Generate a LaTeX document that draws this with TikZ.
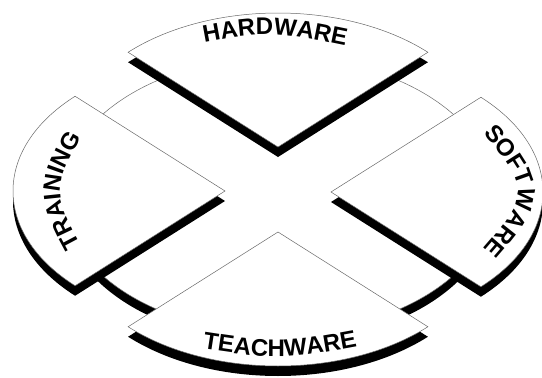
\documentclass[tikz,border=0pt]{standalone}
\usepackage{fontspec}
\setmainfont{Liberation Sans}
\usepackage{tikz}
\usetikzlibrary{decorations.text}
\definecolor{rimclr}{RGB}{105,105,105}
\newcommand{\sectorfont}{\fontsize{24}{24}\selectfont\bfseries}

\begin{document}
\begin{tikzpicture}[x=1pt, y=-1pt,
  rim/.style={draw=rimclr, line width=0.5pt, fill=white},
  slab/.style={fill=black},
  curvedlabel/.style={decorate, decoration={text along path, text align=center, text={|\sectorfont|#1}}}]

\useasboundingbox (0,0) rectangle (542,378);

% Base disk with its dark rim
\fill[slab] (278,205) ellipse [x radius=216, y radius=138];
\draw[rim] (278,195) ellipse [x radius=216, y radius=138];

% Sectors: centre x / centre y / start angle / end angle (back to front)
\foreach \cx/\cy/\sa/\ea in {278/147/225/315, 225/191/135/225, 331/192/-45/45, 278/232/45/135}{
  \fill[slab] (\cx,\cy+10) -- ++(\sa:212 and 134)
    arc[start angle=\sa, end angle=\ea, x radius=212, y radius=134] -- cycle;
  \draw[rim] (\cx,\cy) -- ++(\sa:212 and 134)
    arc[start angle=\sa, end angle=\ea, x radius=212, y radius=134] -- cycle;
}

% Labels
\path[curvedlabel=HARDWARE]  (186,46) .. controls (268,30) .. (364,50);
\path[curvedlabel=TEACHWARE] (180,345) .. controls (280,361) .. (380,342);
\path[curvedlabel=TRAINING]  (90,262) .. controls (50,190) .. (92,120);
\path[curvedlabel=SOFTWARE]  (468,116) .. controls (535,191) .. (468,266);

\end{tikzpicture}
\end{document}
